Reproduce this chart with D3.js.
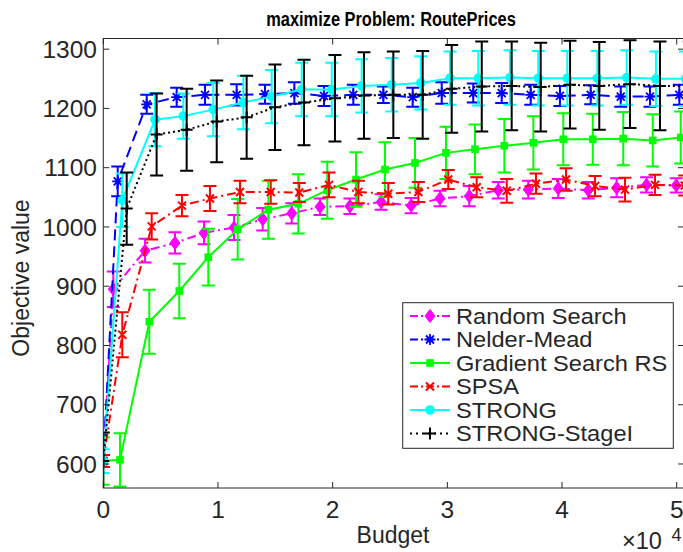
<!DOCTYPE html>
<html><head><meta charset="utf-8">
<script src="https://cdn.jsdelivr.net/npm/d3@7"></script>
<style>body{margin:0;background:#fff}svg{display:block}text{font-family:"Liberation Sans",Arial,sans-serif;fill:#262626}</style>
</head><body>
<script>
// ---- data ----
const seriesNames = ["Random Search","Nelder-Mead","Gradient Search RS","SPSA","STRONG","STRONG-StageI"];
const xTickValues = [0,10000,20000,30000,40000,50000];
const xTickLabels = ["0","1","2","3","4","5"];
const yTickValues = [600,700,800,900,1000,1100,1200,1300];

const rsX   = [0,872,3640,6250,8780,11400,13900,16430,18900,21500,24230,26840,29360,31910,34440,37060,39670,42290,44760,47370,49960];
const rsY   = [605,895,960,973,990,999,1013,1023,1034,1035,1042,1036,1048,1052,1062,1063,1065,1062,1066,1071,1070];
const rsErr = [10,30,20,18,19,21,19,17,14,13,13,13,13,17,14,15,16,14,16,13,12];

const nmX   = [0,1256,3785,6400,8870,11630,14100,16660,19250,21800,24420,26980,29510,32260,34740,37270,39820,42500,45120,47670,50230];
const nmY   = [605,1077,1207,1219,1223,1223,1224,1226,1221,1223,1223,1219,1226,1226,1226,1223,1221,1223,1220,1220,1223];
const nmErr = [10,25,16,16,17,18,16,18,17,17,14,16,18,16,17,17,17,16,17,17,17];

const gsX   = [0,1456,4011,6627,9156,11720,14390,17000,19530,22035,24560,27180,29880,32410,34970,37500,40110,42680,45340,47910,50350];
const gsY   = [605,607,840,892,949,996,1029,1039,1062,1080,1097,1108,1125,1131,1137,1142,1148,1148,1149,1146,1151];
const gsErr = [40,45,54,46,48,51,49,50,48,46,46,42,44,42,45,45,44,43,45,44,44];

const spX   = [0,1657,4220,6860,9300,11920,14600,17090,19680,22240,24850,27470,30080,32560,35180,37730,40350,42880,45490,48110,50700];
const spY   = [605,818,1001,1036,1048,1059,1059,1058,1071,1059,1056,1059,1080,1067,1061,1073,1080,1069,1063,1071,1070];
const spErr = [10,38,22,18,21,19,20,16,21,19,18,17,16,17,20,17,19,17,20,17,17];

const stX   = [0,1657,4508,6976,9590,12210,14680,17300,19920,22530,25150,27680,30230,32700,35460,37930,40460,43080,45640,48190,50760];
const stY   = [605,1045,1181,1187,1198,1210,1220,1232,1232,1238,1240,1243,1251,1251,1252,1251,1251,1251,1252,1250,1250];
const stErr = [20,45,45,38,45,45,45,45,45,45,45,45,45,46,46,46,46,46,46,46,46];

const s1X   = [0,2040,4650,7270,9890,12500,14970,17500,20200,22730,25290,27850,30380,33000,35610,38140,40700,43250,45930,48540,51100];
const s1Y   = [605,1031,1156,1164,1178,1185,1202,1210,1217,1222,1223,1223,1233,1237,1238,1236,1240,1238,1241,1238,1238];
const s1Err = [48,61,69,69,69,70,72,72,73,73,73,74,74,76,75,75,74,74,74,75,75];

// ---- styles ----
const styles = [
  {color:"#FF00FF", dash:"9,4,2,4", marker:"diamond"},
  {color:"#0000FF", dash:"11,6",    marker:"asterisk"},
  {color:"#00FF00", dash:null,      marker:"square"},
  {color:"#FF0000", dash:"9,4,2,4", marker:"x"},
  {color:"#00FFFF", dash:null,      marker:"circle"},
  {color:"#000000", dash:"2,3",     marker:"plus"}
];
const seriesData = [[rsX,rsY,rsErr],[nmX,nmY,nmErr],[gsX,gsY,gsErr],[spX,spY,spErr],[stX,stY,stErr],[s1X,s1Y,s1Err]];

const W = 683, H = 552;
const L = 103.3, R = 684, T = 38.5, B = 488;
const x = d3.scaleLinear().domain([0, 50636]).range([L, R]);
const y = d3.scaleLinear().domain([559.5, 1318]).range([B, T]);

const svg = d3.select("body").append("svg").attr("width", W).attr("height", H);
svg.append("rect").attr("width", W).attr("height", H).attr("fill", "#fff");
svg.append("defs").append("clipPath").attr("id","clip")
  .append("rect").attr("x", L).attr("y", T).attr("width", R - L).attr("height", B - T);

function drawMarker(g, type, color, cx, cy) {
  const s = g.append("g").attr("transform", `translate(${cx},${cy})`);
  if (type === "diamond") s.append("path").attr("d","M0,-6.5L5,0L0,6.5L-5,0Z").attr("fill",color).attr("stroke",color).attr("stroke-width",1);
  else if (type === "asterisk") {
    s.append("path").attr("d","M0,-5.5V5.5M-5.5,0H5.5M-4,-4L4,4M-4,4L4,-4").attr("stroke",color).attr("stroke-width",1.8).attr("fill","none");
  } else if (type === "square") s.append("rect").attr("x",-3.8).attr("y",-3.8).attr("width",7.6).attr("height",7.6).attr("fill",color);
  else if (type === "x") s.append("path").attr("d","M-4,-4L4,4M-4,4L4,-4").attr("stroke",color).attr("stroke-width",2).attr("fill","none");
  else if (type === "circle") s.append("circle").attr("r",4.8).attr("fill",color);
  else if (type === "plus") s.append("path").attr("d","M0,-6V6M-6,0H6").attr("stroke",color).attr("stroke-width",2).attr("fill","none");
}

const plot = svg.append("g").attr("clip-path","url(#clip)");
const line = d3.line();
seriesData.forEach(([xs, ys, es], i) => {
  const st = styles[i];
  const g = plot.append("g");
  xs.forEach((xv, k) => {
    const px = x(xv), y1 = y(ys[k] + es[k]), y2 = y(ys[k] - es[k]);
    g.append("path").attr("d", `M${px},${y1}V${y2}M${px-6.5},${y1}H${px+6.5}M${px-6.5},${y2}H${px+6.5}`)
      .attr("stroke", st.color).attr("stroke-width", 2).attr("fill","none");
  });
  const pts = xs.map((xv,k)=>[x(xv), y(ys[k])]);
  g.append("path").attr("d", line(pts)).attr("fill","none").attr("stroke", st.color)
    .attr("stroke-width", 2).attr("stroke-dasharray", st.dash);
  pts.forEach(p => drawMarker(g, st.marker, st.color, p[0], p[1]));
});

// ---- axes box & ticks ----
const axisColor = "#262626";
const ax = svg.append("g");
ax.append("rect").attr("x",L).attr("y",T).attr("width",R-L).attr("height",B-T)
  .attr("fill","none").attr("stroke",axisColor).attr("stroke-width",1);
const tl = 6;
xTickValues.forEach((v,i) => {
  const px = x(v);
  ax.append("path").attr("d",`M${px},${B}V${B-tl}M${px},${T}V${T+tl}`).attr("stroke",axisColor).attr("stroke-width",1);
  ax.append("text").attr("x",px).attr("y",518).attr("text-anchor","middle").attr("font-size",24.5).text(xTickLabels[i]);
});
yTickValues.forEach(v => {
  const py = y(v);
  ax.append("path").attr("d",`M${L},${py}H${L+tl}M${R},${py}H${R-tl}`).attr("stroke",axisColor).attr("stroke-width",1);
  ax.append("text").attr("x",97).attr("y",py+8.7).attr("text-anchor","end").attr("font-size",24.5).text(v);
});

// labels
svg.append("text").attr("transform","translate(391,26) scale(0.8,1)").attr("text-anchor","middle").attr("font-size",20.5)
  .attr("font-weight","bold").style("fill","#000").text("maximize Problem: RoutePrices");
svg.append("text").attr("transform","translate(29,278) rotate(-90)").attr("text-anchor","middle")
  .attr("font-size",23).text("Objective value");
svg.append("text").attr("x",393).attr("y",543).attr("text-anchor","middle").attr("font-size",23).text("Budget");
svg.append("text").attr("x",622).attr("y",548.5).attr("font-size",23.5).text("\u00d710");
svg.append("text").attr("x",671.5).attr("y",541).attr("font-size",18).text("4");

// ---- legend ----
const lg = svg.append("g");
lg.append("rect").attr("x",402.7).attr("y",302.7).attr("width",270.6).attr("height",145.6)
  .attr("fill","#fff").attr("stroke",axisColor).attr("stroke-width",1);
seriesNames.forEach((name,i) => {
  const cy = 316 + i*23.5, st = styles[i];
  lg.append("path").attr("d",`M410,${cy}H450`).attr("stroke",st.color).attr("stroke-width",2)
    .attr("stroke-dasharray", st.dash === "2,3" ? "2,4" : (st.dash ? "8,3,2,3" : null)).attr("fill","none");
  drawMarker(lg, st.marker, st.color, 430, cy);
  lg.append("text").attr("transform",`translate(456,${cy+7.8}) scale(1.05,1)`).attr("font-size",22.5).text(name);
});
</script>
</body></html>
